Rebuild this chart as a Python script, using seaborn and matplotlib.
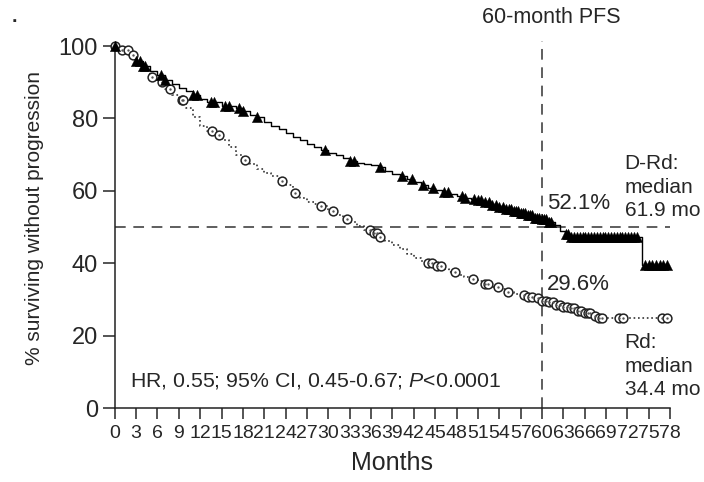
import numpy as np
import pandas as pd
import matplotlib
matplotlib.use('Agg')
import matplotlib.pyplot as plt
import seaborn as sns

# Kaplan-Meier knots (month, % progression-free)
drd_t = [0, 1, 2, 3, 4, 5, 6, 7, 8, 9, 10, 11, 12, 13, 15, 17, 18, 19, 20, 21, 22, 23,
         24, 25, 26, 27, 28, 29, 30, 31, 32, 33, 34, 35, 36, 37, 38, 39, 40, 41, 42, 43,
         44, 45, 46, 47, 48, 49, 50, 51, 52, 53, 54, 55, 56, 57, 58, 59, 60, 61, 61.8,
         62.5, 63.2, 64, 74, 78]
drd_s = [100, 99, 97.5, 96, 94.5, 93, 92, 90.5, 89.5, 88.5, 87.5, 86.5, 85.5, 84.5, 83.5,
         82.8, 82, 81, 80.3, 79, 78, 77, 76, 75, 74, 73, 72.2, 71.3, 70.5, 69.8, 69, 68.2,
         67.8, 67.3, 67, 66.5, 65.6, 64.6, 64, 63.2, 62.5, 61.5, 60.8, 60.2, 59.6, 59, 58.5,
         58, 57.7, 57.4, 56.8, 56.2, 55.6, 55, 54.4, 53.8, 53.2, 52.6, 52.1, 51.5, 50.5, 49,
         48, 47.3, 39.5, 39.5]

rd_t = [0, 1, 2, 3, 4, 5, 6, 7, 8, 9, 10, 11, 12, 13, 14, 15, 16, 17, 18, 19, 20, 21, 22,
        23, 24, 25, 26, 27, 28, 29, 30, 31, 32, 33, 34, 35, 36, 37, 38, 39, 40, 41, 42, 43,
        44, 45, 46, 47, 48, 49, 50, 51, 52, 53, 54, 55, 56, 57, 58, 59, 60, 61, 62, 63, 64,
        65, 66, 67, 68, 78]
rd_s = [100, 99, 97.5, 95.5, 93.5, 91.5, 90, 88, 86.5, 85, 83, 80.5, 78, 76.5, 75.3, 74,
        72, 70, 68.5, 67.3, 66, 65, 64, 62.8, 61.5, 59.5, 58, 57, 56.3, 55.7, 54.5, 53.2,
        52.2, 51.3, 50.2, 49.2, 48.3, 47.3, 46.2, 45, 43.8, 42.6, 41.5, 40.6, 40, 39.2, 38.5,
        37.7, 36.8, 36.2, 35.6, 35, 34.3, 33.5, 32.8, 32.1, 31.6, 31.1, 30.8, 30.4, 29.6,
        29.2, 28.5, 28, 27.5, 26.8, 26.2, 25.5, 24.9, 24.9]

# censoring times
drd_cens = [0, 3, 3.5, 4, 4.3, 6.5, 7, 11, 11.5, 13.5, 14, 15.5, 16, 17.5, 18, 20, 29.5,
            33, 33.6, 37.2, 40.3, 41.7, 43.3, 44.7, 46.3, 46.8, 48.7, 49.2, 50.5, 51, 51.5,
            52, 52.5, 53, 53.5, 54, 54.5, 55, 55.3, 55.6, 56, 56.3, 56.6, 57, 57.3, 57.6, 58,
            58.3, 58.6, 59, 59.3, 59.6, 60, 60.3, 60.6, 61, 61.3, 63.3, 63.7, 64.1, 64.5,
            64.9, 65.3, 65.7, 66.1, 66.5, 66.9, 67.3, 67.7, 68.1, 68.5, 68.9, 69.3, 69.7,
            70.1, 70.5, 70.9, 71.3, 71.7, 72.1, 72.5, 72.9, 73.3, 74.5, 75, 75.5, 76, 76.5,
            77, 77.5]
rd_cens = [0, 1, 1.8, 2.5, 5.3, 6.6, 7.7, 9.4, 9.6, 13.6, 14.7, 18.3, 23.5, 25.3, 29, 30.6,
           32.6, 35.8, 36.4, 36.8, 37.2, 44, 44.6, 45.2, 45.8, 47.8, 50.3, 52, 52.4, 53.8,
           55.2, 57.5, 58, 58.6, 59.4, 60, 60.5, 61, 61.5, 62, 62.5, 63, 63.5, 64, 64.5, 65,
           65.5, 66, 66.4, 66.8, 67.5, 68, 68.4, 70.8, 71.4, 76.8, 77.5]

x_ticks = list(range(0, 79, 3))
y_ticks = [0, 20, 40, 60, 80, 100]


def step_at(times, surv, t):
    idx = np.searchsorted(times, t, side='right') - 1
    return np.asarray(surv)[idx]


drd_curve = pd.DataFrame({'t': drd_t, 's': drd_s})
rd_curve = pd.DataFrame({'t': rd_t, 's': rd_s})
drd_marks = pd.DataFrame({'t': drd_cens, 's': step_at(drd_t, drd_s, drd_cens)})
rd_marks = pd.DataFrame({'t': rd_cens, 's': step_at(rd_t, rd_s, rd_cens)})

sns.set_style('ticks')
fam = 'Liberation Sans'
plt.rcParams['font.family'] = [fam, 'DejaVu Sans']
plt.rcParams['mathtext.fontset'] = 'custom'
plt.rcParams['mathtext.it'] = fam + ':italic'
plt.rcParams['mathtext.rm'] = fam

fig = plt.figure(figsize=(7.04, 4.82), dpi=100)
ax = fig.add_axes([0.163, 0.1535, 0.789, 0.751])

# reference lines
ax.axhline(50, color='#333333', lw=1.1, dashes=(7, 5), zorder=1)
ax.plot([60, 60], [0, 101.5], color='#333333', lw=1.1, dashes=(7, 5), zorder=1,
        clip_on=False)

sns.lineplot(data=rd_curve, x='t', y='s', estimator=None, sort=False, ax=ax,
             drawstyle='steps-post', color='#333333', lw=1.2, linestyle=':')
sns.lineplot(data=drd_curve, x='t', y='s', estimator=None, sort=False, ax=ax,
             drawstyle='steps-post', color='black', lw=1.0)
sns.scatterplot(data=rd_marks, x='t', y='s', ax=ax, marker='o', s=40,
                facecolor='white', edgecolor='#222222', linewidth=1.1, zorder=3,
                clip_on=False)
sns.scatterplot(data=rd_marks, x='t', y='s', ax=ax, marker='o', s=3,
                color='#555555', linewidth=0, zorder=3, clip_on=False)
sns.scatterplot(data=drd_marks, x='t', y='s', ax=ax, marker='^', s=55,
                color='black', edgecolor='black', linewidth=0.3, zorder=4,
                clip_on=False)

ax.set_xlim(0, 78)
ax.set_ylim(0, 100)
ax.set_xticks(x_ticks)
ax.set_yticks(y_ticks)
ax.tick_params(axis='x', labelsize=14, length=8, width=1.1, pad=4, direction='out')
ax.tick_params(axis='y', labelsize=17, length=9, width=1.1, pad=3, direction='out')
sns.despine(ax=ax)
for sp in ['left', 'bottom']:
    ax.spines[sp].set_linewidth(1.1)
    ax.spines[sp].set_color('#222222')
ax.set_xlabel('Months', fontsize=18, labelpad=7)
ax.set_ylabel('% surviving without progression', fontsize=15)
ax.yaxis.set_label_coords(-0.128, 0.525)

ax.text(61.3, 108, '60-month PFS', ha='center', va='center', fontsize=15.5, clip_on=False)
ax.text(60.7, 56.6, '52.1%', ha='left', va='center', fontsize=16)
ax.text(60.7, 34.2, '29.6%', ha='left', va='center', fontsize=16)
ax.text(71.6, 61.0, 'D-Rd:\nmedian\n61.9 mo', ha='left', va='center', fontsize=15,
        linespacing=1.3, clip_on=False)
ax.text(71.6, 11.5, 'Rd:\nmedian\n34.4 mo', ha='left', va='center', fontsize=15,
        linespacing=1.3, clip_on=False)
ax.text(2.1, 7.5, r'HR, 0.55; 95% CI, 0.45-0.67; $P$<0.0001', ha='left', va='center',
        fontsize=15.3)
fig.text(0.016, 0.955, '.', fontsize=14, fontweight='bold')

fig.savefig('out.png', dpi=100)
